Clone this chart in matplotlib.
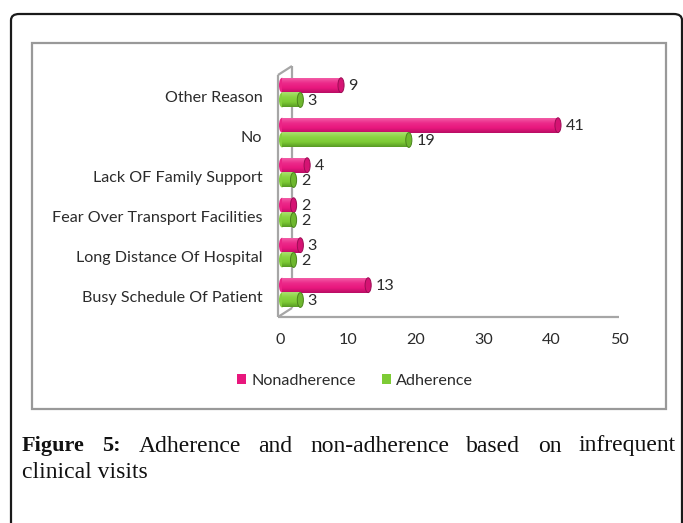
import numpy as np
import matplotlib
matplotlib.use("Agg")
import matplotlib.pyplot as plt
from matplotlib.colors import LinearSegmentedColormap
from matplotlib.patches import Ellipse, Patch, Rectangle, FancyBboxPatch

# data, bottom to top as drawn
categories = ["Busy Schedule Of Patient", "Long Distance Of Hospital",
              "Fear Over Transport Facilities", "Lack OF Family Support",
              "No", "Other Reason"]
nonadherence = [13, 3, 2, 4, 41, 9]
adherence = [3, 2, 2, 2, 19, 3]
x_ticks = [0, 10, 20, 30, 40, 50]

PINK = "#E8177D"
GREEN = "#7DCB35"
W, H = 683, 523
FS = 11.6
TXT = "#2b2b2b"

plt.rcParams["font.family"] = ["Lato", "DejaVu Sans"]

fig = plt.figure(figsize=(W / 100, H / 100), dpi=100)


def fx(px):
    return px / W


def fy(py):
    return 1 - py / H


# outer rounded frame and inner chart frame
fig.patches.append(FancyBboxPatch((fx(11), fy(560)), fx(671), 546 / H,
                                  boxstyle="round,pad=0,rounding_size=0.012",
                                  transform=fig.transFigure, fill=False,
                                  edgecolor="#1a1a1a", lw=1.6))
fig.patches.append(Rectangle((fx(32), fy(409)), fx(634), 366 / H,
                             transform=fig.transFigure, fill=False,
                             edgecolor="#999999", lw=1.6))

ax = fig.add_axes([fx(280), fy(317), fx(339), 240 / H])
ax.set_axis_off()

pink_cmap = LinearSegmentedColormap.from_list("p", ["#F25CA6", "#EC2A8A", PINK, "#B80E64"])
green_cmap = LinearSegmentedColormap.from_list("g", ["#ABE070", "#8AD444", GREEN, "#589A24"])
grad = np.linspace(0, 1, 60).reshape(-1, 1)

bar_h = 0.37
off_pink = 0.32
off_green = -0.05
cap_w = 0.9

for i in range(len(categories)):
    for vals, off, cmap, dark in ((nonadherence, off_pink, pink_cmap, "#9C0D55"),
                                  (adherence, off_green, green_cmap, "#4A841C")):
        v = vals[i]
        y = i + off
        ax.imshow(grad, cmap=cmap, extent=(0.3, v, y - bar_h / 2, y + bar_h / 2),
                  aspect="auto", zorder=3, interpolation="bilinear")
        ax.add_patch(Ellipse((0.3, y), cap_w, bar_h, facecolor=cmap(0.45),
                             edgecolor="none", zorder=2.9, clip_on=False))
        ax.add_patch(Ellipse((v, y), cap_w, bar_h, facecolor=cmap(0.8),
                             edgecolor=dark, lw=0.7, zorder=3.1, clip_on=False))
        ax.text(v + 1.1, y - 0.03, str(v), va="center", ha="left",
                fontsize=FS, color=TXT, zorder=4)
    ax.text(-2.6, i, categories[i], va="center", ha="right",
            fontsize=FS, color=TXT)

for t in x_ticks:
    ax.text(t, -1.05, str(t), va="center", ha="center",
            fontsize=FS, color=TXT)

# 3d wall and floor outline
wall = "#A6A6A6"
x0, x1 = -0.3, 1.77
yb0, yb1 = -0.475, -0.25
yt0, yt1 = 5.575, 5.8
for xs, ys in (([x0, x0], [yb0, yt0]), ([x0, x1], [yt0, yt1]),
               ([x1, x1], [yb1, yt1]), ([x0, x1], [yb0, yb1]),
               ([x0, 50], [yb0, yb0])):
    ax.plot(xs, ys, color=wall, lw=1.6, clip_on=False, zorder=1,
            solid_capstyle="butt")

ax.set_xlim(0, 50)
ax.set_ylim(-0.475, 5.525)

handles = [Patch(facecolor=PINK, label="Nonadherence"),
           Patch(facecolor=GREEN, label="Adherence")]
fig.legend(handles=handles, loc="center", bbox_to_anchor=(fx(355), fy(381)),
           ncol=2, frameon=False, fontsize=FS, handlelength=0.55,
           handleheight=0.55, handletextpad=0.35, columnspacing=1.6,
           labelcolor=TXT)

# justified caption
serif = ["Liberation Serif", "DejaVu Serif"]
cap_size = 17
line1 = [("Figure", "bold"), ("5:", "bold"), ("Adherence", "normal"),
         ("and", "normal"), ("non-adherence", "normal"), ("based", "normal"),
         ("on", "normal"), ("infrequent", "normal")]
renderer = fig.canvas.get_renderer()
texts = []
for word, weight in line1:
    size = cap_size - 1 if weight == "bold" else cap_size
    t = fig.text(0, fy(446), word, fontsize=size, fontweight=weight,
                 family=serif, va="center", ha="left", color="#111111")
    texts.append(t)
widths = [t.get_window_extent(renderer).width for t in texts]
left, right = 22, 676
gap = (right - left - sum(widths)) / (len(texts) - 1)
xpos = left
for t, w in zip(texts, widths):
    t.set_x(fx(xpos))
    xpos += w + gap
fig.text(fx(22), fy(473), "clinical visits", fontsize=cap_size, family=serif,
         va="center", ha="left", color="#111111")

fig.savefig("out.png", dpi=100)
